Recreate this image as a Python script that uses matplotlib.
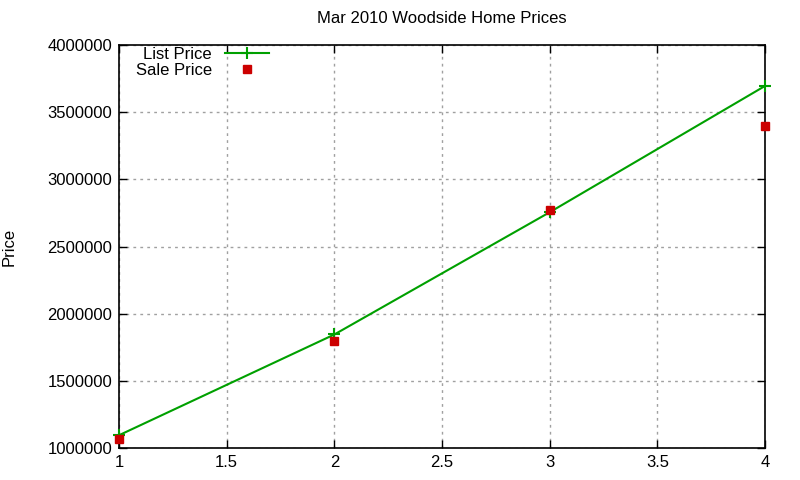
import numpy as np
import matplotlib.pyplot as plt

# Mar 2010 Woodside home prices
x_vals = [1, 2, 3, 4]
list_price = [1095000, 1845000, 2755000, 3695000]
sale_price = [1070000, 1800000, 2775000, 3400000]

plt.rcParams['font.family'] = ['Liberation Sans', 'DejaVu Sans']
plt.rcParams['font.size'] = 12

fig = plt.figure(figsize=(8, 4.8), dpi=100)
ax = fig.add_axes([119/800, 1 - 448/480, (765-119)/800, (448-45)/480])

ax.plot(x_vals, list_price, color='#00a000', lw=1.5, marker='+', ms=8, mew=1.5,
        label='List Price', clip_on=False, zorder=3)
ax.plot(x_vals, sale_price, ls='none', color='#cc0000', marker='s', ms=6,
        label='Sale Price', clip_on=False, zorder=4)

ax.set_xlim(1, 4)
ax.set_ylim(1000000, 4000000)
ax.set_xticks([1, 1.5, 2, 2.5, 3, 3.5, 4])
ax.set_xticklabels(['1', '1.5', '2', '2.5', '3', '3.5', '4'])
ax.set_yticks(np.arange(1000000, 4000001, 500000))
ax.set_yticklabels([str(v) for v in range(1000000, 4000001, 500000)])
ax.tick_params(direction='in', top=True, right=True, length=6, width=1, pad=5)
ax.grid(True, color='#a0a0a0', ls=(0, (2, 3)), lw=1)
for s in ax.spines.values():
    s.set_linewidth(1.2)

ax.set_title('Mar 2010 Woodside Home Prices', fontsize=12, pad=16)
ax.set_ylabel('Price', labelpad=22)

leg = ax.legend(loc='upper left', frameon=False, markerfirst=False,
                bbox_to_anchor=(0.008, 1.025), handlelength=2.6,
                borderpad=0.2, labelspacing=0.1)

fig.savefig('out.png', dpi=100)
